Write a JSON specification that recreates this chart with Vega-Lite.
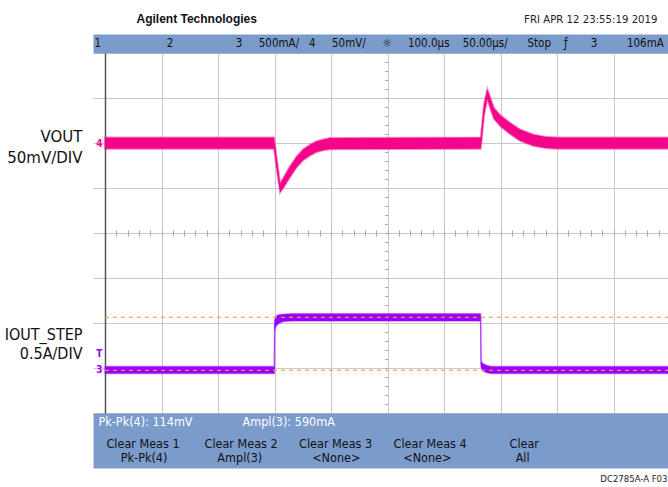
{
  "$schema": "https://vega.github.io/schema/vega-lite/v6.json",
  "width": 575,
  "height": 360,
  "autosize": {"type": "none"},
  "padding": {"left": 93, "top": 53, "right": 0, "bottom": 74},
  "background": "white",
  "config": {
    "view": {"stroke": null},
    "axis": {"labelFont": "DejaVu Sans Condensed, sans-serif", "titleFont": "DejaVu Sans Condensed, sans-serif", "titleFontWeight": "normal", "titleColor": "#111111"}
  },
  "datasets": {
    "vout": [
      {"t": 0, "mid": 0, "lo": -6.5, "hi": 6},
      {"t": 149.6, "mid": 0, "lo": -6.5, "hi": 6},
      {"t": 150.4, "mid": -8, "lo": -14, "hi": -2},
      {"t": 152.2, "mid": -25, "lo": -31, "hi": -19},
      {"t": 154.9, "mid": -50, "lo": -55, "hi": -45},
      {"t": 157.8, "mid": -44.4, "lo": -50, "hi": -39},
      {"t": 163.7, "mid": -31.9, "lo": -38, "hi": -26},
      {"t": 169.6, "mid": -21.1, "lo": -27, "hi": -15},
      {"t": 175.5, "mid": -13.3, "lo": -19, "hi": -7},
      {"t": 181.4, "mid": -7.8, "lo": -14, "hi": -2},
      {"t": 187.3, "mid": -4.1, "lo": -10, "hi": 2},
      {"t": 193.2, "mid": -1.9, "lo": -8, "hi": 4},
      {"t": 199.1, "mid": -0.5, "lo": -7, "hi": 5.5},
      {"t": 332.5, "mid": 0, "lo": -6.5, "hi": 6},
      {"t": 333.5, "mid": 12, "lo": 5, "hi": 18},
      {"t": 335.4, "mid": 37, "lo": 30, "hi": 43},
      {"t": 338.3, "mid": 55, "lo": 49, "hi": 60},
      {"t": 341.6, "mid": 42, "lo": 36, "hi": 48},
      {"t": 344.2, "mid": 33, "lo": 27, "hi": 39},
      {"t": 349.6, "mid": 25.5, "lo": 19, "hi": 31},
      {"t": 358.4, "mid": 16.7, "lo": 10, "hi": 22.5},
      {"t": 367.3, "mid": 9, "lo": 2.5, "hi": 15},
      {"t": 378.8, "mid": 3.3, "lo": -3, "hi": 9.5},
      {"t": 389.4, "mid": 1, "lo": -5.5, "hi": 7},
      {"t": 400, "mid": 0, "lo": -6.5, "hi": 6},
      {"t": 498.2, "mid": 0, "lo": -6.5, "hi": 6}
    ],
    "iout": [
      {"t": 0, "mid": 0, "lo": -0.04, "hi": 0.04},
      {"t": 149.9, "mid": 0, "lo": -0.04, "hi": 0.04},
      {"t": 150.1, "mid": 0.5, "lo": 0.44, "hi": 0.55},
      {"t": 151.5, "mid": 0.55, "lo": 0.49, "hi": 0.6},
      {"t": 154, "mid": 0.57, "lo": 0.52, "hi": 0.615},
      {"t": 158, "mid": 0.58, "lo": 0.54, "hi": 0.62},
      {"t": 165, "mid": 0.585, "lo": 0.545, "hi": 0.625},
      {"t": 332.4, "mid": 0.585, "lo": 0.545, "hi": 0.625},
      {"t": 332.8, "mid": 0.06, "lo": 0.03, "hi": 0.1},
      {"t": 334.5, "mid": 0.03, "lo": -0.01, "hi": 0.07},
      {"t": 338, "mid": 0.01, "lo": -0.03, "hi": 0.05},
      {"t": 342, "mid": 0, "lo": -0.04, "hi": 0.04},
      {"t": 498.2, "mid": 0, "lo": -0.04, "hi": 0.04}
    ],
    "cursors": [
      {"level": 0.585},
      {"level": -0.005}
    ]
  },
  "resolve": {"scale": {"y": "independent"}, "axis": {"x": "independent", "y": "independent"}},
  "layer": [
    {
      "data": {"name": "iout"},
      "mark": {"type": "line", "color": "#c77dff", "strokeWidth": 1.2},
      "encoding": {
        "x": {"field": "t", "type": "quantitative", "scale": {"domain": [-10.62, 498.23], "nice": false, "zero": false},
          "axis": {"orient": "bottom", "offset": -180, "values": [0,10,20,30,40,50,60,70,80,90,100,110,120,130,140,150,160,170,180,190,200,210,220,230,240,250,260,270,280,290,300,310,320,330,340,350,360,370,380,390,400,410,420,430,440,450,460,470,480,490],
            "tickSize": 3, "tickColor": "#a8a8a8", "domain": false, "labels": false, "grid": false,
            "title": "DC2785A-A F03", "titleX": 574, "titleY": 248, "titleAlign": "right", "titleBaseline": "alphabetic", "titleFontSize": 9.5, "titleColor": "#222222"}},
        "y": {"field": "mid", "type": "quantitative", "scale": {"domain": [-0.4778, 3.5222], "nice": false, "zero": false}, "axis": null}
      }
    },
    {
      "data": {"name": "iout"},
      "mark": {"type": "area", "color": "#9a00ff", "opacity": 1, "stroke": "#9a00ff", "strokeWidth": 1.5, "strokeOpacity": 0.45},
      "encoding": {
        "x": {"field": "t", "type": "quantitative", "scale": {"domain": [-10.62, 498.23], "nice": false, "zero": false},
          "axis": {"orient": "bottom", "offset": 27.5, "domain": true, "domainColor": "#7b9bcb", "domainWidth": 55, "ticks": false, "labels": false, "grid": false,
            "title": "Pk-Pk(4): 114mV\u00a0\u00a0\u00a0\u00a0\u00a0\u00a0\u00a0\u00a0\u00a0\u00a0\u00a0\u00a0\u00a0\u00a0Ampl(3): 590mA",
            "titleX": 5, "titleY": -19.5, "titleAlign": "left", "titleBaseline": "middle", "titleFontSize": 12.5, "titleColor": "#ffffff"}},
        "y": {"field": "lo", "type": "quantitative", "scale": {"domain": [-0.4778, 3.5222], "nice": false, "zero": false},
          "axis": {"orient": "left", "offset": -12, "values": [0, 0.18], "labelExpr": "datum.value === 0 ? '3' : 'T'", "labelColor": "#9a00ff", "labelFontSize": 10, "labelFontWeight": "bold", "labelPadding": 3, "ticks": false, "domain": false, "grid": false,
            "title": ["IOUT_STEP", "0.5A/DIV"], "titleAngle": 0, "titleAlign": "right", "titleX": -23, "titleY": 286, "titleBaseline": "alphabetic", "titleFontSize": 16, "titleLineHeight": 19}},
        "y2": {"field": "hi"}
      }
    },
    {
      "data": {"name": "vout"},
      "mark": {"type": "line", "color": "#f5058a", "strokeWidth": 1},
      "encoding": {
        "x": {"field": "t", "type": "quantitative", "scale": {"domain": [-10.62, 498.23], "nice": false, "zero": false},
          "axis": {"orient": "top", "offset": -180, "values": [0,10,20,30,40,50,60,70,80,90,100,110,120,130,140,150,160,170,180,190,200,210,220,230,240,250,260,270,280,290,300,310,320,330,340,350,360,370,380,390,400,410,420,430,440,450,460,470,480,490],
            "tickSize": 3, "tickColor": "#a8a8a8", "domain": false, "labels": false, "grid": false,
            "title": "FRI APR 12 23:55:19 2019", "titleX": 564, "titleY": -211, "titleAlign": "right", "titleBaseline": "alphabetic", "titleFontSize": 11.3, "titleColor": "#222222"}},
        "y": {"field": "mid", "type": "quantitative", "scale": {"domain": [-300, 100], "nice": false, "zero": false},
          "axis": {"orient": "left", "offset": -294.5, "values": [-300,-290,-280,-270,-260,-250,-240,-230,-220,-210,-200,-190,-180,-170,-160,-150,-140,-130,-120,-110,-100,-90,-80,-70,-60,-50,-40,-30,-20,-10,0,10,20,30,40,50,60,70,80,90,100],
            "tickSize": 3, "tickColor": "#a8a8a8", "domain": false, "labels": false, "grid": false,
            "title": "Agilent Technologies", "titleX": -251.5, "titleY": -31, "titleAngle": 0, "titleAlign": "left", "titleBaseline": "alphabetic", "titleFont": "Liberation Sans, Arial, sans-serif", "titleFontSize": 12, "titleFontWeight": "bold", "titleColor": "#111111"}}
      }
    },
    {
      "data": {"name": "vout"},
      "mark": {"type": "area", "color": "#f5058a", "opacity": 1, "stroke": "#f5058a", "strokeWidth": 2, "strokeOpacity": 0.45},
      "encoding": {
        "x": {"field": "t", "type": "quantitative", "scale": {"domain": [-10.62, 498.23], "nice": false, "zero": false},
          "axis": {"orient": "top", "offset": 9.5, "domain": true, "domainColor": "#7b9bcb", "domainWidth": 19, "ticks": false, "labels": false,
            "grid": true, "values": [0,50,100,150,200,250,300,350,400,450], "gridColor": "#c8c8c8", "gridWidth": 1,
            "title": "1\u00a0\u00a0\u00a0\u00a0\u00a0\u00a0\u00a0\u00a0\u00a0\u00a0\u00a0\u00a0\u00a0\u00a0\u00a0\u00a0\u00a0\u00a0\u00a0\u00a02\u00a0\u00a0\u00a0\u00a0\u00a0\u00a0\u00a0\u00a0\u00a0\u00a0\u00a0\u00a0\u00a0\u00a0\u00a0\u00a0\u00a0\u00a0\u00a03\u00a0\u00a0\u00a0\u00a0\u00a0500mA/\u00a0\u00a0\u00a04\u00a0\u00a0\u00a0\u00a0\u00a050mV/\u00a0\u00a0\u00a0\u00a0\u00a0\u263c\u00a0\u00a0\u00a0\u00a0\u00a0100.0\u00b5s\u00a0\u00a0\u00a0\u00a050.00\u00b5s/\u00a0\u00a0\u00a0\u00a0\u00a0\u00a0Stop\u00a0\u00a0\u00a0\u00a0\u0192\u00a0\u00a0\u00a0\u00a0\u00a0\u00a0\u00a03\u00a0\u00a0\u00a0\u00a0\u00a0\u00a0\u00a0\u00a0\u00a0106mA",
            "titleX": 1, "titleY": 0, "titleAlign": "left", "titleBaseline": "middle", "titleFontSize": 11.5, "titleColor": "#111111"}},
        "y": {"field": "lo", "type": "quantitative", "scale": {"domain": [-300, 100], "nice": false, "zero": false},
          "axis": {"orient": "left", "offset": -12, "values": [-300,-250,-200,-150,-100,-50,0,50,100], "grid": true, "gridColor": "#c8c8c8", "gridWidth": 1,
            "domain": true, "domainColor": "#555555", "domainWidth": 1.5, "ticks": false,
            "labelExpr": "datum.value === 0 ? '4' : ''", "labelColor": "#f5058a", "labelFontSize": 10, "labelFontWeight": "bold", "labelPadding": 3,
            "title": ["VOUT", "50mV/DIV"], "titleAngle": 0, "titleAlign": "right", "titleX": -23, "titleY": 88, "titleBaseline": "alphabetic", "titleFontSize": 16.7, "titleLineHeight": 21}},
        "y2": {"field": "hi"}
      }
    },
    {
      "data": {"name": "cursors"},
      "mark": {"type": "rule", "color": "#f0a048", "strokeDash": [4, 4], "strokeWidth": 1.2, "opacity": 0.9},
      "encoding": {
        "x": {"datum": 0, "type": "quantitative", "axis": null},
        "x2": {"datum": 498.2},
        "y": {"field": "level", "type": "quantitative", "scale": {"domain": [-0.4778, 3.5222], "nice": false, "zero": false},
          "axis": {"orient": "left", "offset": 0, "domain": false, "ticks": false, "labels": false, "grid": false,
            "title": ["Clear Meas 1\u00a0\u00a0\u00a0\u00a0\u00a0\u00a0\u00a0Clear Meas 2\u00a0\u00a0\u00a0\u00a0\u00a0\u00a0Clear Meas 3\u00a0\u00a0\u00a0\u00a0\u00a0\u00a0Clear Meas 4\u00a0\u00a0\u00a0\u00a0\u00a0\u00a0\u00a0\u00a0\u00a0\u00a0\u00a0\u00a0Clear", "\u200b\u00a0\u00a0\u00a0\u00a0Pk-Pk(4)\u00a0\u00a0\u00a0\u00a0\u00a0\u00a0\u00a0\u00a0\u00a0\u00a0\u00a0\u00a0\u00a0\u00a0Ampl(3)\u00a0\u00a0\u00a0\u00a0\u00a0\u00a0\u00a0\u00a0\u00a0\u00a0\u00a0\u00a0\u00a0\u00a0<None>\u00a0\u00a0\u00a0\u00a0\u00a0\u00a0\u00a0\u00a0\u00a0\u00a0\u00a0\u00a0<None>\u00a0\u00a0\u00a0\u00a0\u00a0\u00a0\u00a0\u00a0\u00a0\u00a0\u00a0\u00a0\u00a0\u00a0\u00a0\u00a0\u00a0\u00a0All"],
            "titleX": 13, "titleY": 394, "titleAngle": 0, "titleAlign": "left", "titleBaseline": "alphabetic", "titleFontSize": 12.5, "titleLineHeight": 14, "titleColor": "#111111"}}
      }
    }
  ]
}
